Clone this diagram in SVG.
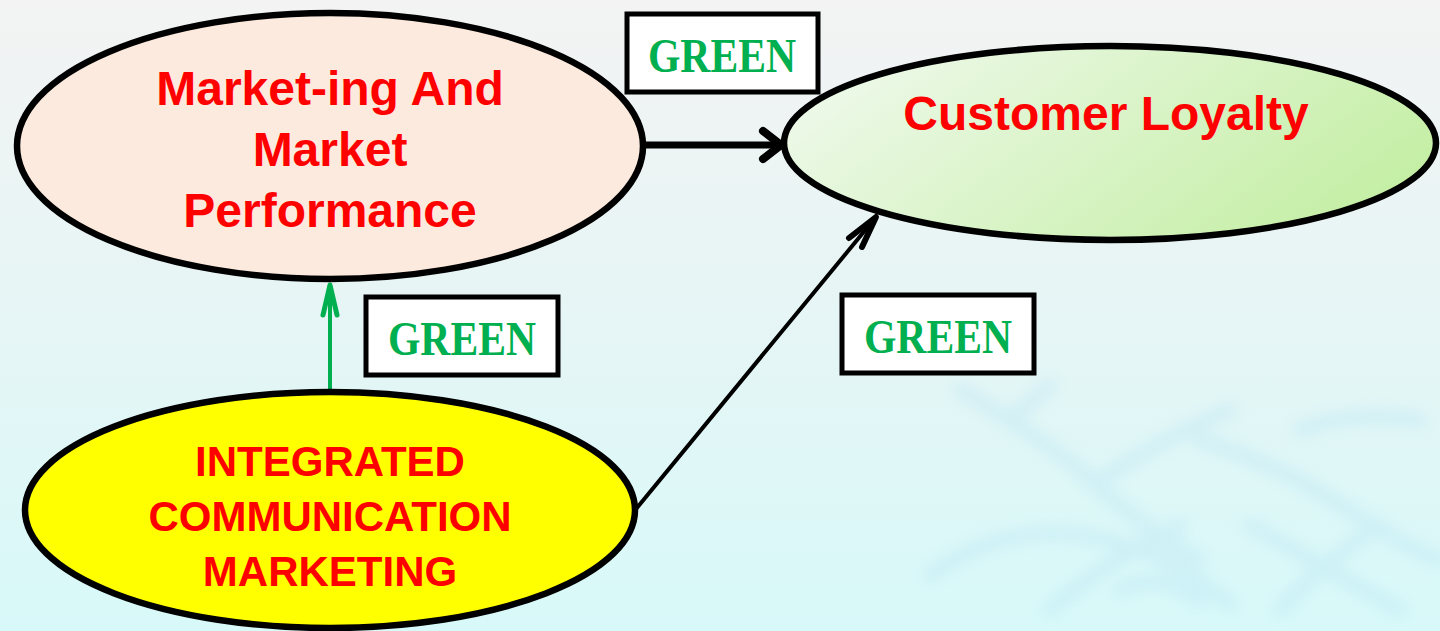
<svg xmlns="http://www.w3.org/2000/svg" width="1440" height="631" viewBox="0 0 1440 631">
<defs>
<linearGradient id="bg" x1="0" y1="0" x2="0" y2="1">
<stop offset="0" stop-color="#F3F3F3"/>
<stop offset="0.5" stop-color="#E6F5F5"/>
<stop offset="1" stop-color="#D8F9F9"/>
</linearGradient>
<linearGradient id="loyal" x1="0" y1="0.3" x2="1" y2="0.7">
<stop offset="0" stop-color="#EEF9EA"/>
<stop offset="1" stop-color="#C3EEA2"/>
</linearGradient>
<filter id="blur" x="-20%" y="-20%" width="140%" height="140%"><feGaussianBlur stdDeviation="7"/></filter>
<style>
.ell{stroke:#000;stroke-width:6.5}
.lbl{fill:#fff;stroke:#000;stroke-width:5}
.red{font-family:"Liberation Sans",Arial,sans-serif;font-weight:bold;fill:#FF0000;text-anchor:middle}
.grn{font-family:"Liberation Serif","DejaVu Serif",serif;font-weight:bold;fill:#00B050;text-anchor:middle;font-size:48px}
.conn{fill:none;stroke-linecap:round;stroke-linejoin:round}
</style>
</defs>
<rect width="1440" height="631" fill="url(#bg)"/>
<g opacity="0.22" filter="url(#blur)" stroke="#9FD8F0" stroke-width="16" fill="none" stroke-linecap="round">
<path d="M960 390 Q1030 430 1080 470 Q1130 520 1200 560"/>
<path d="M1010 420 L1050 385"/>
<path d="M1100 480 Q1160 440 1230 410"/>
<path d="M930 575 Q1000 525 1080 535 Q1160 545 1230 605"/>
<path d="M1200 440 Q1280 465 1340 505 Q1400 545 1440 560"/>
<path d="M1300 430 Q1350 410 1420 420"/>
<path d="M1050 610 Q1100 565 1180 525"/>
<path d="M1250 525 Q1320 565 1400 610"/>
<path d="M1280 610 Q1320 565 1380 525"/>
<path d="M1120 590 Q1160 570 1200 600"/>
</g>
<g id="connectors">
<g stroke="#000" class="conn">
<line x1="645" y1="145" x2="780" y2="145" stroke-width="7"/>
<polyline points="763,131 781,145 763,159" stroke-width="8"/>
</g>
<g stroke="#00B050" class="conn">
<line x1="330" y1="390" x2="330" y2="285" stroke-width="4"/>
<polyline points="323,315 330,285 337,315" stroke-width="5"/>
</g>
<g stroke="#000" class="conn">
<line x1="636" y1="509" x2="876" y2="217" stroke-width="4"/>
<polyline points="849,238 876,217 862,247" stroke-width="6"/>
</g>
</g>
<g id="node-marketing">
<ellipse class="ell" cx="330" cy="146" rx="313" ry="133" fill="#FBEADD"/>
<text class="red" font-size="48" x="330" y="105">Market-ing And</text>
<text class="red" font-size="48" x="330" y="166">Market</text>
<text class="red" font-size="48" x="330" y="227">Performance</text>
</g>
<g id="node-loyalty">
<ellipse class="ell" cx="1110" cy="143" rx="326" ry="97" fill="url(#loyal)"/>
<text class="red" font-size="48" x="1106" y="130">Customer Loyalty</text>
</g>
<g id="node-icm">
<ellipse class="ell" cx="330" cy="510" rx="305" ry="118" fill="#FFFF00"/>
<text class="red" font-size="42" x="330" y="476">INTEGRATED</text>
<text class="red" font-size="42" x="330" y="531">COMMUNICATION</text>
<text class="red" font-size="42" x="330" y="586">MARKETING</text>
</g>
<g id="label-top">
<rect class="lbl" x="627" y="14" width="191" height="78"/>
<text class="grn" x="722" y="72" textLength="148" lengthAdjust="spacingAndGlyphs">GREEN</text>
</g>
<g id="label-left">
<rect class="lbl" x="366" y="297" width="192" height="78"/>
<text class="grn" x="462" y="355" textLength="148" lengthAdjust="spacingAndGlyphs">GREEN</text>
</g>
<g id="label-right">
<rect class="lbl" x="842" y="295" width="192" height="78"/>
<text class="grn" x="938" y="353" textLength="148" lengthAdjust="spacingAndGlyphs">GREEN</text>
</g>
</svg>
